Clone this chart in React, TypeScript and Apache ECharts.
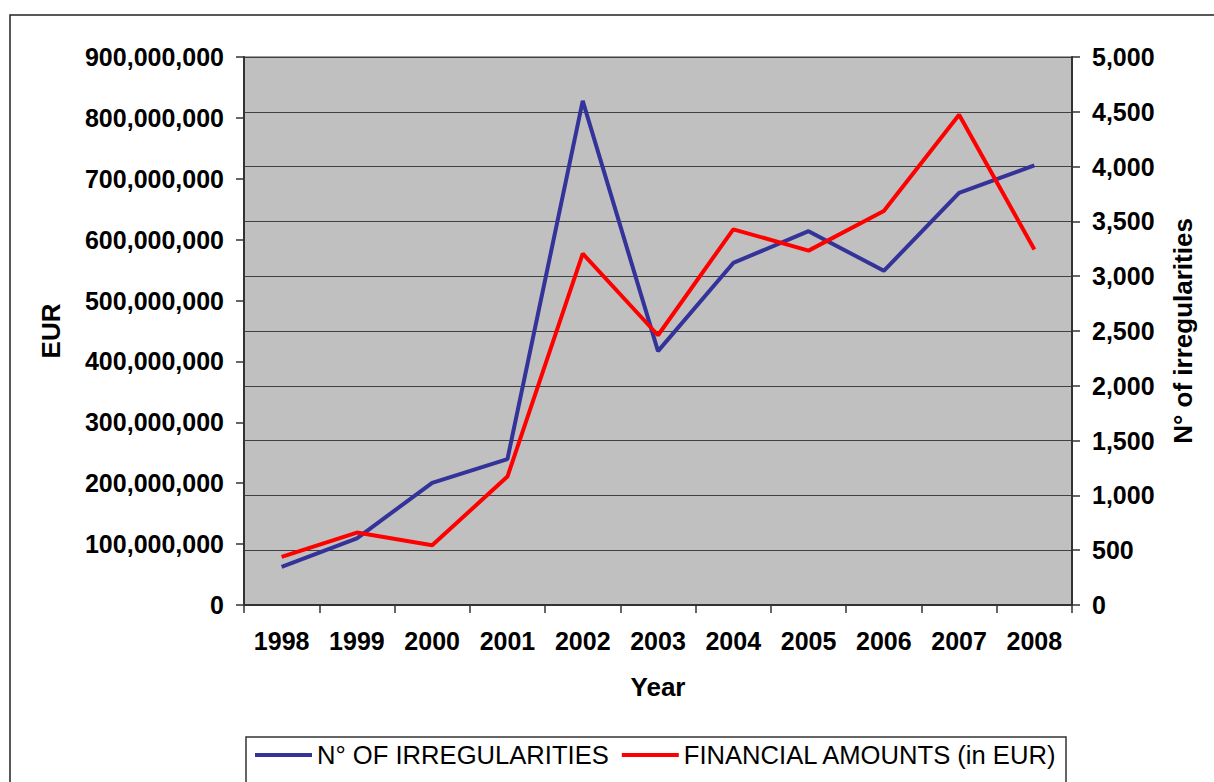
import React, { useEffect, useRef } from "react";
import * as echarts from "echarts";

const years = ["1998", "1999", "2000", "2001", "2002", "2003", "2004", "2005", "2006", "2007", "2008"];
const irregularities = [347, 608, 1115, 1331, 4599, 2316, 3121, 3411, 3049, 3760, 4012];
const amountsEur = [79e6, 119e6, 98e6, 211e6, 577e6, 443e6, 617e6, 582e6, 647e6, 805e6, 584e6];
const seriesNames = ["N° OF IRREGULARITIES", "FINANCIAL AMOUNTS (in EUR)"];

const FONT = "'Liberation Sans', Arial, sans-serif";
const fmt = (v: number) => Math.round(v).toLocaleString("en-US");

export default function App() {
  const ref = useRef<HTMLDivElement>(null);
  useEffect(() => {
    if (!ref.current) return;
    const chart = echarts.init(ref.current, null, { renderer: "svg" });
    const tickLabel = { color: "#000", fontFamily: FONT, fontWeight: "bold", fontSize: 25 };
    const nameStyle = { color: "#000", fontFamily: FONT, fontWeight: "bold", fontSize: 26 };
    const axisLine = { show: true, lineStyle: { color: "#333", width: 2 } };
    const axisTick = { show: true, inside: false, length: 8, lineStyle: { color: "#333", width: 1.5 } };
    chart.setOption({
      animation: false,
      backgroundColor: "#fff",
      textStyle: { fontFamily: FONT },
      graphic: [
        { type: "rect", shape: { x: 10, y: 15, width: 1300, height: 900 }, style: { fill: "none", stroke: "#222", lineWidth: 1.5 }, silent: true, z: -10 },
        { type: "rect", shape: { x: 246, y: 737, width: 820, height: 100 }, style: { fill: "#fff", stroke: "#333", lineWidth: 1.5 }, silent: true, z: -5 },
      ],
      grid: {
        left: 244,
        right: 142,
        top: 57,
        bottom: 177,
        show: true,
        backgroundColor: "#c0c0c0",
        borderColor: "#808080",
        borderWidth: 1.5,
      },
      legend: {
        left: 255,
        top: 742,
        padding: 0,
        itemGap: 13,
        itemWidth: 57,
        itemHeight: 4,
        icon: "rect",
        data: seriesNames,
        textStyle: { color: "#000", fontFamily: FONT, fontSize: 25.6 },
      },
      xAxis: {
        type: "category",
        data: years,
        boundaryGap: true,
        name: "Year",
        nameLocation: "middle",
        nameGap: 69,
        nameTextStyle: nameStyle,
        axisLine,
        axisTick,
        axisLabel: { ...tickLabel, margin: 23 },
        splitLine: { show: false },
      },
      yAxis: [
        {
          type: "value",
          min: 0,
          max: 900000000,
          interval: 100000000,
          position: "left",
          name: "EUR",
          nameLocation: "middle",
          nameRotate: 90,
          nameGap: 180,
          nameTextStyle: nameStyle,
          axisLine,
          axisTick,
          axisLabel: { ...tickLabel, margin: 20, formatter: (v: number) => fmt(v) },
          splitLine: { show: false },
        },
        {
          type: "value",
          min: 0,
          max: 5000,
          interval: 500,
          position: "right",
          name: "N° of irregularities",
          nameLocation: "middle",
          nameRotate: 90,
          nameGap: 98,
          nameTextStyle: nameStyle,
          axisLine,
          axisTick,
          axisLabel: { ...tickLabel, margin: 20, formatter: (v: number) => fmt(v) },
          splitLine: { show: true, lineStyle: { color: "#404040", width: 1.2 } },
        },
      ],
      series: [
        {
          name: seriesNames[0],
          type: "line",
          yAxisIndex: 1,
          data: irregularities,
          symbol: "none",
          lineStyle: { color: "#333399", width: 4 },
          itemStyle: { color: "#333399" },
          z: 3,
        },
        {
          name: seriesNames[1],
          type: "line",
          yAxisIndex: 0,
          data: amountsEur,
          symbol: "none",
          lineStyle: { color: "#ff0000", width: 4 },
          itemStyle: { color: "#ff0000" },
          z: 4,
        },
      ],
    });
    return () => chart.dispose();
  }, []);
  return (
    <div
      ref={ref}
      style={{ position: "absolute", left: 0, top: 0, width: 1214, height: 782, overflow: "hidden" }}
    />
  );
}
